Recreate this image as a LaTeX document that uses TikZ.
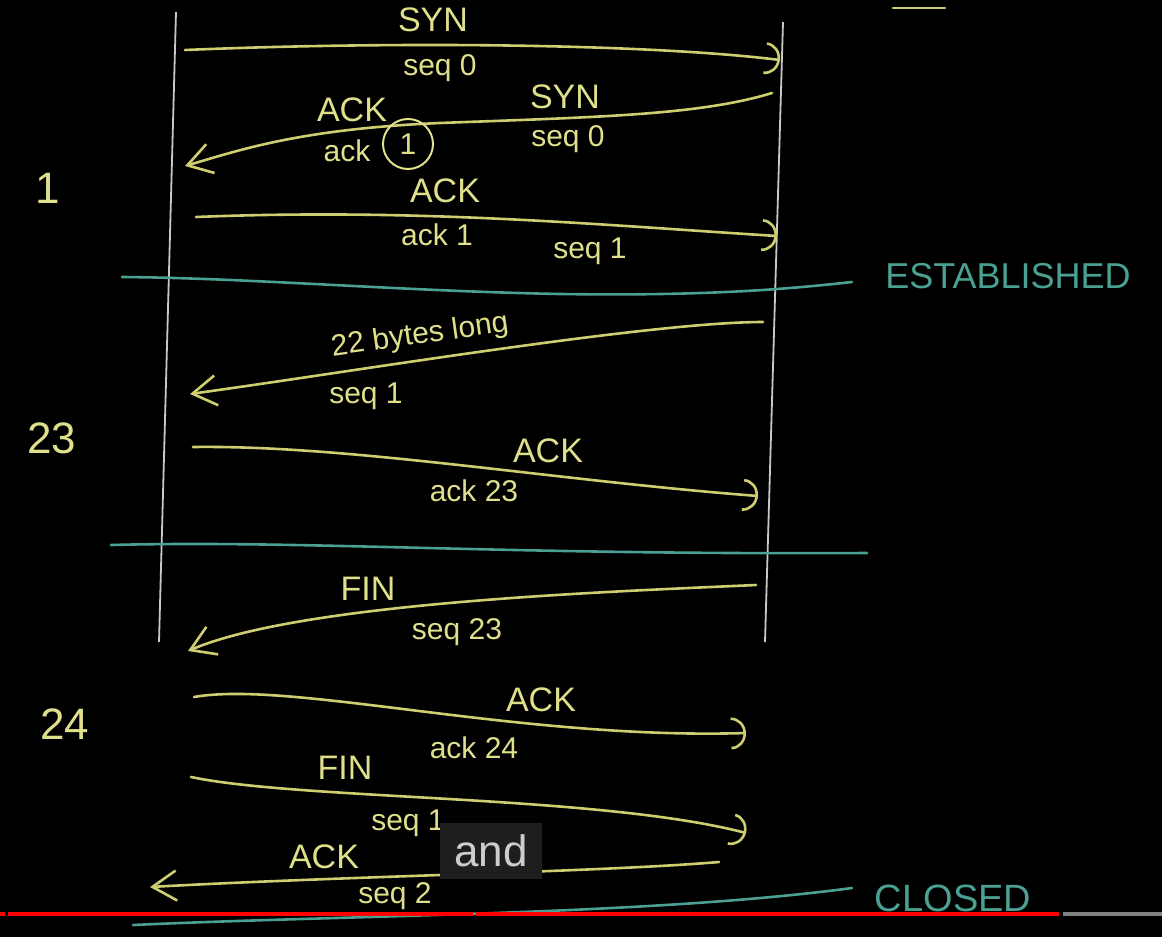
\documentclass[tikz,border=0pt]{standalone}
\usepackage{fontspec}
\setmainfont{Liberation Sans}
\usetikzlibrary{arrows.meta}
\definecolor{ylw}{RGB}{206,206,112}
\definecolor{ylwt}{RGB}{224,224,140}
\definecolor{tealc}{RGB}{74,160,146}
\definecolor{wline}{RGB}{200,200,200}
\begin{document}
\begin{tikzpicture}[x=1pt,y=-1pt,
  msg/.style={draw=ylw, line width=2.6pt, line cap=round, line join=round},
  rtip/.style={-{Arc Barb[length=15pt,width=32pt,line width=2.6pt]}},
  ltip/.style={-{Straight Barb[length=24pt,width=30pt,line width=2.6pt]}},
  septeal/.style={draw=tealc, line width=2.6pt, line cap=round},
  lifeln/.style={draw=wline, line width=1.8pt},
  captxt/.style={text=ylwt, inner sep=0pt, font=\fontsize{34}{34}\selectfont},
  lowtxt/.style={text=ylwt, inner sep=0pt, font=\fontsize{30}{30}\selectfont},
  numtxt/.style={text=ylwt, inner sep=0pt, font=\fontsize{44}{44}\selectfont},
  statetxt/.style={text=tealc, inner sep=0pt, font=\fontsize{36}{36}\selectfont}]
\fill[black] (0,0) rectangle (1162,937);
\useasboundingbox (0,0) rectangle (1162,937);

% lifelines
\coordinate (LT) at (176,12); \coordinate (LB) at (159,642);
\coordinate (RT) at (783,22); \coordinate (RB) at (765,642);
\draw[lifeln] (LT) -- (LB);
\draw[lifeln] (RT) -- (RB);

% small dash top right
\coordinate (d1) at (893,8); \coordinate (d2) at (945,8);
\draw[msg] (d1) -- (d2);

% arrow 1: SYN
\coordinate (a1s) at (185,50); \coordinate (a1e) at (780,60);
\draw[msg,rtip] (a1s) .. controls (400,41) and (650,44) .. (a1e);
\node[captxt] (syn1) at (433,20) {SYN};
\node[lowtxt] (seq01) at (440,68) {seq 0};

% arrow 2: SYN/ACK
\coordinate (a2s) at (772,93); \coordinate (a2e) at (185,166);
\draw[msg,ltip] (a2s) .. controls (700,115) and (600,117) .. (440,123)
   .. controls (300,129) and (240,150) .. (a2e);
\node[captxt] (ack2) at (352,110) {ACK};
\node[lowtxt] (ack2l) at (347,151) {ack};
\node[lowtxt, draw=ylwt, line width=2pt, circle, minimum size=50pt] (one) at (408,144) {1};
\node[captxt] (syn2) at (565,97) {SYN};
\node[lowtxt] (seq02) at (568,139) {seq 0};

% arrow 3: ACK
\coordinate (a3s) at (196,217); \coordinate (a3e) at (777,236);
\draw[msg,rtip] (a3s) .. controls (420,208) and (600,225) .. (a3e);
\node[captxt] (ack3) at (445,191) {ACK};
\node[lowtxt] (ack31) at (437,235) {ack 1};
\node[lowtxt] (seq31) at (590,251) {seq 1};
\node[numtxt] (n1) at (48,188) {1};

% ESTABLISHED separator
\coordinate (t1s) at (122,277); \coordinate (t1e) at (852,282);
\draw[septeal] (t1s) .. controls (250,278) and (400,291) .. (560,294)
   .. controls (700,296) and (780,290) .. (t1e);
\node[statetxt] (est) at (1008,276) {ESTABLISHED};

% arrow 4: data
\coordinate (a4s) at (763,322); \coordinate (a4e) at (190,394);
\draw[msg,ltip] (a4s) .. controls (650,322) and (350,372) .. (a4e);
\node[lowtxt, rotate=8] (bytes) at (420,336) {22 bytes long};
\node[lowtxt] (seq41) at (366,396) {seq 1};
\node[numtxt] (n23) at (52,438) {23};

% arrow 5: ACK 23
\coordinate (a5s) at (193,447); \coordinate (a5e) at (758,496);
\draw[msg,rtip] (a5s) .. controls (350,445) and (550,480) .. (a5e);
\node[captxt] (ack5) at (548,451) {ACK};
\node[lowtxt] (ack523) at (474,491) {ack 23};

% separator 2
\coordinate (t2s) at (111,545); \coordinate (t2e) at (867,553);
\draw[septeal] (t2s) .. controls (300,540) and (500,555) .. (t2e);

% arrow 6: FIN
\coordinate (a6s) at (756,585); \coordinate (a6e) at (188,651);
\draw[msg,ltip] (a6s) .. controls (600,592) and (300,603) .. (a6e);
\node[captxt] (fin6) at (368,589) {FIN};
\node[lowtxt] (seq623) at (457,632) {seq 23};

% arrow 7: ACK 24
\coordinate (a7s) at (194,697); \coordinate (a7e) at (746,733);
\draw[msg,rtip] (a7s) .. controls (290,680) and (520,740) .. (a7e);
\node[captxt] (ack7) at (541,700) {ACK};
\node[lowtxt] (ack724) at (474,748) {ack 24};
\node[numtxt] (n24) at (65,724) {24};

% arrow 8: FIN
\coordinate (a8s) at (191,777); \coordinate (a8e) at (746,833);
\draw[msg,rtip] (a8s) .. controls (300,800) and (600,795) .. (a8e);
\node[captxt] (fin8) at (345,768) {FIN};
\node[lowtxt] (seq81) at (408,823) {seq 1};

% arrow 9: ACK
\coordinate (a9s) at (719,862); \coordinate (a9e) at (150,887);
\draw[msg,ltip] (a9s) .. controls (600,872) and (350,876) .. (a9e);
\node[captxt] (ack9) at (324,857) {ACK};
\node[lowtxt] (seq92) at (395,896) {seq 2};

% CLOSED separator
\coordinate (t3s) at (133,925); \coordinate (t3e) at (852,888);
\draw[septeal] (t3s) .. controls (350,915) and (650,915) .. (t3e);
\node[statetxt, font=\fontsize{38}{38}\selectfont] (closed) at (953,898) {CLOSED};

% caption box
\node[fill={rgb,255:red,30;green,30;blue,30}, minimum width=102pt, minimum height=56pt,
      inner sep=0pt, text={rgb,255:red,205;green,205;blue,205},
      font=\fontsize{44}{44}\selectfont] (subtitle) at (491,851) {and};

% progress bar
\fill[red] (8,912) rectangle (473,916);
\fill[red] (476,912) rectangle (1059,916);
\fill[red] (0,912) rectangle (5,916);
\fill[gray] (1063,912) rectangle (1162,916);
\end{tikzpicture}
\end{document}
